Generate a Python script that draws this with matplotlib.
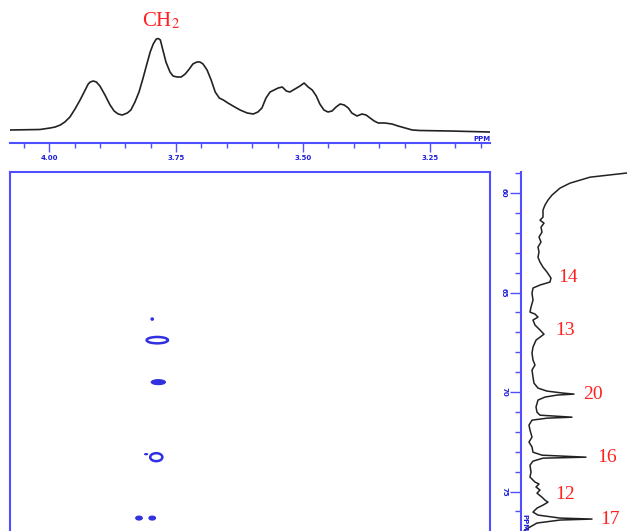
import numpy as np
import matplotlib.pyplot as plt
from matplotlib.patches import Ellipse
from matplotlib.ticker import MultipleLocator, FixedLocator

plt.rcParams['mathtext.fontset'] = 'stix'

# 1H projection (top), ppm and intensity
h_ppm = [4.077, 4.018, 3.998, 3.988, 3.978, 3.969, 3.959, 3.949, 3.939, 3.929,
         3.923, 3.919, 3.913, 3.907, 3.900, 3.890, 3.880, 3.872, 3.864, 3.856,
         3.846, 3.839, 3.831, 3.823, 3.815, 3.807, 3.801, 3.795, 3.789, 3.785,
         3.781, 3.776, 3.770, 3.762, 3.756, 3.748, 3.740, 3.732, 3.724, 3.717,
         3.709, 3.703, 3.697, 3.689, 3.681, 3.673, 3.665, 3.657, 3.648, 3.638,
         3.624, 3.610, 3.598, 3.589, 3.581, 3.573, 3.565, 3.557, 3.549, 3.541,
         3.533, 3.526, 3.516, 3.506, 3.498, 3.490, 3.482, 3.474, 3.467, 3.459,
         3.451, 3.443, 3.435, 3.427, 3.419, 3.411, 3.404, 3.394, 3.384, 3.376,
         3.368, 3.360, 3.352, 3.339, 3.325, 3.313, 3.299, 3.285, 3.270, 3.211,
         3.132]
h_int = [1, 1.5, 3, 4, 6, 9, 14, 22, 31, 41,
         47, 49, 50, 49, 45, 36, 26, 20, 17, 16,
         18, 21, 29, 39, 53, 68, 79, 87, 92, 92.5,
         91, 81, 69, 59, 55, 54, 54, 57, 62, 67,
         69, 69, 67, 61, 51, 39, 33, 31, 28, 25,
         21, 18, 17, 19, 23, 33, 39, 41, 43, 44,
         40, 39, 42, 45, 48, 44, 41, 35, 27, 21,
         19, 20, 24, 27, 26, 23, 18, 15, 17, 16,
         13, 10, 8, 8, 7, 5, 3, 1, 0.5, 0,
         -1]

# 13C projection (right), ppm and intensity
c_ppm = [58.99, 59.20, 59.50, 59.75, 60.10, 60.35, 60.60, 60.85, 61.21, 61.36,
         61.51, 61.71, 61.96, 62.21, 62.46, 62.71, 62.96, 63.22, 63.47, 63.72,
         63.97, 64.27, 64.47, 64.62, 64.77, 65.03, 65.38, 65.73, 65.98, 66.08,
         66.23, 66.38, 66.63, 66.88, 67.09, 67.39, 67.74, 68.04, 68.39, 68.64,
         68.89, 69.25, 69.55, 69.80, 69.95, 70.05, 70.10, 70.15, 70.25, 70.40,
         70.75, 71.01, 71.16, 71.26, 71.31, 71.41, 71.66, 71.91, 72.26, 72.51,
         72.76, 73.02, 73.17, 73.27, 73.32, 73.47, 73.67, 74.02, 74.27, 74.52,
         74.62, 74.77, 74.92, 75.08, 75.28, 75.43, 75.53, 75.68, 75.83, 76.03,
         76.18, 76.33, 76.38, 76.43, 76.58, 76.78, 76.93, 77.10]
c_int = [97, 60, 40, 30, 22, 18, 15, 13, 13, 10,
         14, 11, 12, 9, 11, 8, 9, 8, 10, 13,
         17, 21, 20, 10, 3, 2, 3, 1, 0, 5,
         8, 3, 5, 10, 14, 6, 3, 2, 3, 5,
         2, 3, 4, 8, 17, 33, 44, 27, 15, 8,
         6, 7, 10, 42, 17, 2, -1, 0, 2, -1,
         2, 3, 12, 56, 13, 3, 0, 1, 0, 5,
         9, 6, 10, 7, 12, 15, 18, 13, 7, 3,
         8, 30, 62, 30, 7, 0, -5, -8]

# HSQC cross peaks: 1H ppm, 13C ppm, widths, filled or ring
xp_h = [3.797, 3.787, 3.785, 3.789, 3.809, 3.823, 3.797]
xp_c = [66.33, 67.39, 69.50, 73.27, 73.12, 76.33, 76.33]
xp_w = [0.005, 0.042, 0.028, 0.024, 0.006, 0.013, 0.013]
xp_ht = [0.12, 0.32, 0.25, 0.40, 0.06, 0.20, 0.20]
xp_fill = [True, False, True, False, True, True, True]

side_labels = ['14', '13', '20', '16', '12', '17']
side_lab_c = [64.22, 66.88, 70.10, 73.27, 75.13, 76.38]
side_lab_i = [28, 25, 53, 67, 25, 70]

c_ticks = [60, 65, 70, 75]
c_ticklabels = ['60', '65', '70', '75']
h_ticks = [4.00, 3.75, 3.50, 3.25]
h_ticklabels = ['4.00', '3.75', '3.50', '3.25']

blue = '#4f4fff'
tblue = '#1f1fd8'
red = '#ff2020'
W, H = 627, 531


def box(x0, y0, x1, y1):
    return [x0 / W, 1 - y1 / H, (x1 - x0) / W, (y1 - y0) / H]


hlim = (4.077, 3.132)
clim = (76.98, 58.94)

fig = plt.figure(figsize=(6.27, 5.31), dpi=100)

# top 1H trace
ax_top = fig.add_axes(box(10, 0, 490, 143))
ax_top.plot(h_ppm, h_int, color='#222222', lw=1.2)
ax_top.set_xlim(hlim)
ax_top.set_ylim(-12, 131)
for s in ['top', 'left', 'right']:
    ax_top.spines[s].set_visible(False)
ax_top.spines['bottom'].set_color(blue)
ax_top.spines['bottom'].set_linewidth(1.5)
ax_top.set_yticks([])
ax_top.xaxis.set_major_locator(FixedLocator(h_ticks))
ax_top.set_xticklabels(h_ticklabels, fontsize=5, fontweight='bold', color=tblue)
ax_top.xaxis.set_minor_locator(MultipleLocator(0.05))
ax_top.tick_params(axis='x', which='major', direction='out', length=6.5, width=1, color=blue, pad=2)
ax_top.tick_params(axis='x', which='minor', direction='out', length=3.6, width=1, color=blue)
ax_top.text(1.0, 0.005, 'PPM', transform=ax_top.transAxes, ha='right', va='bottom',
            fontsize=5, fontweight='bold', color=tblue)
ax_top.text(3.78, 100, r'CH$_2$', ha='center', va='bottom', color=red, fontsize=15,
            family='Liberation Serif')

# 2D box
ax2d = fig.add_axes(box(10, 172, 490, 531))
ax2d.set_xlim(hlim)
ax2d.set_ylim(clim)
ax2d.set_xticks([])
ax2d.set_yticks([])
for s in ['top', 'left', 'right']:
    ax2d.spines[s].set_color(blue)
    ax2d.spines[s].set_linewidth(1.5)
ax2d.spines['bottom'].set_visible(False)
for h, c, w, ht, f in zip(xp_h, xp_c, xp_w, xp_ht, xp_fill):
    if f:
        ax2d.add_patch(Ellipse((h, c), w, ht, facecolor='#3030e0', edgecolor='#3030e0', lw=0.8))
    else:
        ax2d.add_patch(Ellipse((h, c), w, ht, facecolor='none', edgecolor='#3030e0', lw=1.8))

# right 13C trace
ax_side = fig.add_axes(box(521, 172, 627, 531))
ax_side.plot(c_int, c_ppm, color='#222222', lw=1.1)
ax_side.set_ylim(clim)
ax_side.set_xlim(-9, 97)
for s in ['top', 'bottom', 'right']:
    ax_side.spines[s].set_visible(False)
ax_side.spines['left'].set_color(blue)
ax_side.spines['left'].set_linewidth(1.5)
ax_side.set_xticks([])
ax_side.yaxis.set_major_locator(FixedLocator(c_ticks))
ax_side.set_yticklabels(c_ticklabels, fontsize=5, fontweight='bold', color=tblue,
                        rotation=-90, va='center')
ax_side.yaxis.set_minor_locator(MultipleLocator(1))
ax_side.tick_params(axis='y', which='major', direction='out', length=8, width=1, color=blue, pad=2)
ax_side.tick_params(axis='y', which='minor', direction='out', length=4.3, width=1, color=blue)
ax_side.text(0.005, 0.0, 'PPM', transform=ax_side.transAxes, ha='left', va='bottom',
             rotation=-90, fontsize=5, fontweight='bold', color=tblue)
for lab, c, i in zip(side_labels, side_lab_c, side_lab_i):
    ax_side.text(i, c, lab, ha='left', va='center', color=red, fontsize=14,
                 family='Liberation Serif', clip_on=False)

fig.savefig('out.png', dpi=100)
